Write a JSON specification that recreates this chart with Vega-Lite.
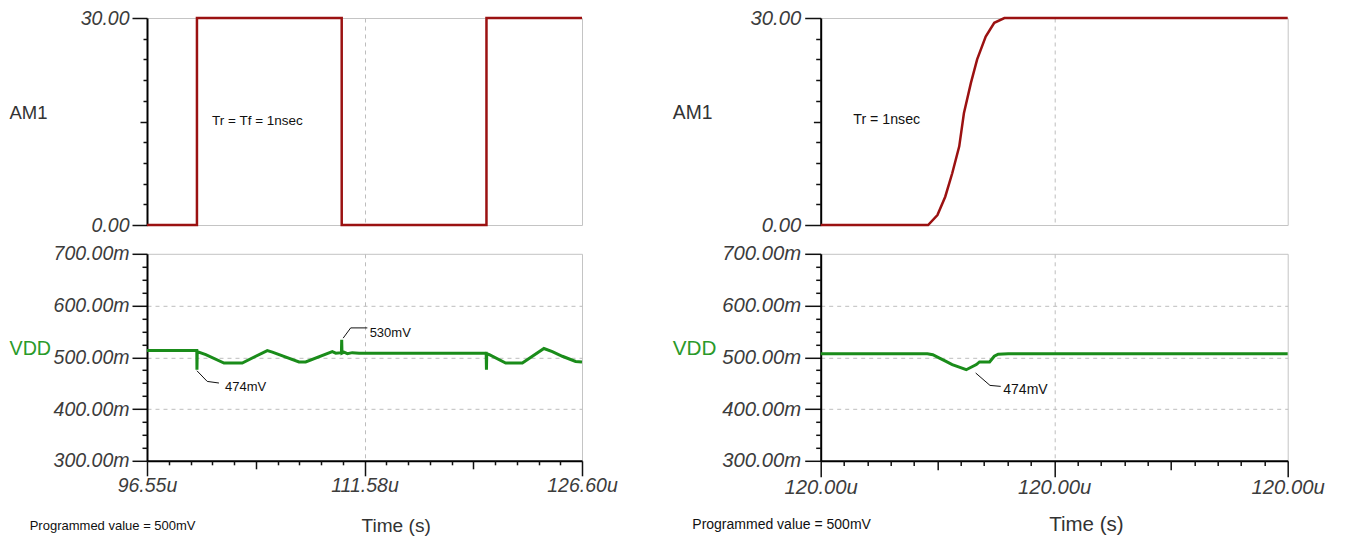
{
  "$schema": "https://vega.github.io/schema/vega-lite/v6.json",
  "padding": {"left": 8, "top": 7, "right": 0, "bottom": 0},
  "background": "white",
  "config": {
    "view": {"stroke": "#c4c4c4", "strokeWidth": 1},
    "axis": {
      "domainColor": "#000000", "domainWidth": 2,
      "tickColor": "#111111", "tickWidth": 1.5,
      "labelFont": "Liberation Sans", "labelFontStyle": "italic", "labelColor": "#3c3c3c", "labelFontSize": 19.5,
      "titleFont": "Liberation Sans", "titleFontWeight": "normal", "titleColor": "#333333",
      "gridColor": "#bdbdbd", "gridDash": [4, 4], "gridWidth": 1,
      "labelOverlap": false, "labelBound": false, "labelFlush": false
    },
    "text": {"font": "Liberation Sans"}
  },
  "datasets": {
    "am1_left": [
      {"t": 96.55, "v": 0}, {"t": 100.0, "v": 0}, {"t": 100.001, "v": 30}, {"t": 110.0, "v": 30},
      {"t": 110.001, "v": 0}, {"t": 120.0, "v": 0}, {"t": 120.001, "v": 30}, {"t": 126.6, "v": 30}
    ],
    "vdd_left": [
      {"t": 96.55, "v": 513}, {"t": 99.99, "v": 513}, {"t": 100.0, "v": 476}, {"t": 100.02, "v": 511},
      {"t": 100.61, "v": 505}, {"t": 101.87, "v": 489}, {"t": 103.13, "v": 489}, {"t": 104.86, "v": 513},
      {"t": 105.21, "v": 510}, {"t": 107.05, "v": 491}, {"t": 107.51, "v": 491}, {"t": 109.35, "v": 511},
      {"t": 109.59, "v": 508}, {"t": 109.98, "v": 509}, {"t": 110.0, "v": 534}, {"t": 110.02, "v": 508},
      {"t": 110.16, "v": 510}, {"t": 110.39, "v": 507}, {"t": 110.73, "v": 509}, {"t": 111.2, "v": 508},
      {"t": 119.98, "v": 508}, {"t": 120.0, "v": 476}, {"t": 120.02, "v": 507}, {"t": 120.2, "v": 505},
      {"t": 121.33, "v": 489}, {"t": 122.48, "v": 489}, {"t": 123.97, "v": 517}, {"t": 124.55, "v": 511},
      {"t": 125.24, "v": 502}, {"t": 126.16, "v": 492}, {"t": 126.6, "v": 491}
    ],
    "notes_left": [
      {"t": 101.94, "v": 435.4, "label": "474mV"},
      {"t": 111.93, "v": 539.4, "label": "530mV"},
      {"t": 88.447, "v": 166.4, "label": "Programmed value = 500mV"}
    ],
    "leaders_left": [
      {"grp": "a", "t": 100.0, "v": 474}, {"grp": "a", "t": 100.71, "v": 453.4}, {"grp": "a", "t": 101.52, "v": 450.3},
      {"grp": "b", "t": 110.1, "v": 537}, {"grp": "b", "t": 110.62, "v": 556.8}, {"grp": "b", "t": 111.77, "v": 556.8}
    ],
    "am1_right": [
      {"t": 119.997, "v": 0}, {"t": 119.99838, "v": 0}, {"t": 119.9985, "v": 1.45}, {"t": 119.9986, "v": 4.1},
      {"t": 119.99869, "v": 7.5}, {"t": 119.99878, "v": 11.4}, {"t": 119.99884, "v": 16.2}, {"t": 119.99893, "v": 20.6},
      {"t": 119.99901, "v": 24.0}, {"t": 119.99912, "v": 27.3}, {"t": 119.99923, "v": 29.3}, {"t": 119.99936, "v": 30},
      {"t": 120.003, "v": 30}
    ],
    "vdd_right": [
      {"t": 119.997, "v": 507}, {"t": 119.99837, "v": 507}, {"t": 119.99844, "v": 505}, {"t": 119.99852, "v": 499},
      {"t": 119.99861, "v": 492}, {"t": 119.99869, "v": 486}, {"t": 119.99878, "v": 481}, {"t": 119.99887, "v": 476},
      {"t": 119.999, "v": 486}, {"t": 119.99904, "v": 491}, {"t": 119.99917, "v": 491}, {"t": 119.99923, "v": 502},
      {"t": 119.99928, "v": 506}, {"t": 119.99941, "v": 507}, {"t": 120.003, "v": 507}
    ],
    "notes_right": [
      {"t": 119.999346, "v": 429, "label": "474mV"},
      {"t": 119.9953503, "v": 168.4, "label": "Programmed value = 500mV"}
    ],
    "leaders_right": [
      {"grp": "a", "t": 119.998991, "v": 469.7}, {"grp": "a", "t": 119.999175, "v": 445.7}, {"grp": "a", "t": 119.999313, "v": 443.8}
    ]
  },
  "columns": 2,
  "bounds": "flush",
  "spacing": {"row": 28.8, "column": 238.7},
  "concat": [
    {
      "width": 435, "height": 207,
      "resolve": {"axis": {"x": "independent", "y": "independent"}},
      "layer": [
        {
          "data": {"name": "am1_left"},
          "mark": {"type": "line", "color": "#9b1111", "strokeWidth": 2.5},
          "encoding": {
            "x": {"field": "t", "type": "quantitative", "scale": {"domain": [96.55, 126.6], "nice": false, "zero": false},
              "axis": {"orient": "bottom", "values": [111.5751], "domain": false, "ticks": false, "labels": false, "title": null, "grid": true}},
            "y": {"field": "v", "type": "quantitative", "scale": {"domain": [0, 30], "nice": false, "zero": false},
              "axis": {"orient": "left", "values": [0, 30], "format": ".2f", "tickSize": 15, "labelPadding": 3, "grid": false,
                "title": "AM1", "titleAngle": 0, "titleAlign": "left", "titleBaseline": "middle", "titleX": -138, "titleY": 94, "titleFontSize": 18.5}}
          }
        },
        {
          "data": {"values": [{"t": 101.04, "v": 14.47, "label": "Tr = Tf = 1nsec"}]},
          "mark": {"type": "text", "align": "left", "baseline": "alphabetic", "fontSize": 13.5, "color": "#111111"},
          "encoding": {
            "x": {"field": "t", "type": "quantitative", "axis": null},
            "y": {"field": "v", "type": "quantitative",
              "axis": {"orient": "left", "values": [3, 6, 9, 12, 15, 18, 21, 24, 27], "labels": false, "domain": false, "grid": false, "title": null,
                "tickSize": {"condition": {"test": "datum.value == 15", "value": 7}, "value": 4}}},
            "text": {"field": "label"}
          }
        }
      ]
    },
    {
      "width": 467, "height": 207,
      "resolve": {"axis": {"x": "independent", "y": "independent"}},
      "layer": [
        {
          "data": {"name": "am1_right"},
          "mark": {"type": "line", "color": "#9b1111", "strokeWidth": 2.5},
          "encoding": {
            "x": {"field": "t", "type": "quantitative", "scale": {"domain": [119.997, 120.003], "nice": false, "zero": false},
              "axis": {"orient": "bottom", "values": [120.0], "domain": false, "ticks": false, "labels": false, "title": null, "grid": true}},
            "y": {"field": "v", "type": "quantitative", "scale": {"domain": [0, 30], "nice": false, "zero": false},
              "axis": {"orient": "left", "values": [0, 30], "format": ".2f", "tickSize": 16, "labelPadding": 4, "labelFontSize": 20.3, "grid": false,
                "title": "AM1", "titleAngle": 0, "titleAlign": "left", "titleBaseline": "middle", "titleX": -148.4, "titleY": 94, "titleFontSize": 19.3}}
          }
        },
        {
          "data": {"values": [{"t": 119.9974189, "v": 14.66, "label": "Tr = 1nsec"}]},
          "mark": {"type": "text", "align": "left", "baseline": "alphabetic", "fontSize": 14.2, "color": "#111111"},
          "encoding": {
            "x": {"field": "t", "type": "quantitative", "axis": null},
            "y": {"field": "v", "type": "quantitative",
              "axis": {"orient": "left", "values": [3, 6, 9, 12, 15, 18, 21, 24, 27], "labels": false, "domain": false, "grid": false, "title": null,
                "tickSize": {"condition": {"test": "datum.value == 15", "value": 7.3}, "value": 5}}},
            "text": {"field": "label"}
          }
        }
      ]
    },
    {
      "width": 435, "height": 207,
      "resolve": {"axis": {"x": "independent", "y": "independent"}},
      "layer": [
        {
          "data": {"name": "vdd_left"},
          "mark": {"type": "line", "color": "#1a8c1a", "strokeWidth": 3},
          "encoding": {
            "x": {"field": "t", "type": "quantitative", "scale": {"domain": [96.55, 126.6], "nice": false, "zero": false},
              "axis": {"orient": "bottom", "values": [96.55, 111.5751, 126.6], "labelExpr": "format(datum.value, '.2f') + 'u'",
                "tickSize": 15, "labelPadding": 1, "grid": true,
                "gridOpacity": {"condition": {"test": "datum.value < 100 || datum.value > 126", "value": 0}, "value": 1},
                "title": "Time (s)", "titleAlign": "left", "titleBaseline": "alphabetic", "titleX": 214, "titleY": 70.5, "titleFontSize": 19.1}},
            "y": {"field": "v", "type": "quantitative", "scale": {"domain": [300, 700], "nice": false, "zero": false},
              "axis": {"orient": "left", "values": [300, 400, 500, 600, 700], "labelExpr": "format(datum.value, '.2f') + 'm'",
                "tickSize": 15, "labelPadding": 3, "grid": true,
                "gridOpacity": {"condition": {"test": "datum.value == 300 || datum.value == 700", "value": 0}, "value": 1},
                "title": "VDD", "titleColor": "#2a9a2a", "titleAngle": 0, "titleAlign": "left", "titleBaseline": "middle", "titleX": -138, "titleY": 94.7, "titleFontSize": 19.7}}
          }
        },
        {
          "data": {"name": "notes_left"},
          "mark": {"type": "text", "align": "left", "baseline": "alphabetic", "fontSize": 13, "color": "#111111"},
          "encoding": {
            "x": {"field": "t", "type": "quantitative",
              "axis": {"orient": "bottom", "values": [98.0525, 99.555, 101.0575, 102.56, 104.0625, 105.565, 107.0675, 108.57, 110.0725, 113.0775, 114.58, 116.0825, 117.585, 119.0875, 120.59, 122.0925, 123.595, 125.0975],
                "labels": false, "domain": false, "grid": false, "title": null,
                "tickSize": {"condition": {"test": "abs(datum.value - 104.0625) < 0.01 || abs(datum.value - 119.0875) < 0.01", "value": 8}, "value": 4}}},
            "y": {"field": "v", "type": "quantitative",
              "axis": {"orient": "left", "values": [325, 350, 375, 425, 450, 475, 525, 550, 575, 625, 650, 675], "labels": false, "domain": false, "grid": false, "title": null, "tickSize": 5}},
            "text": {"field": "label"}
          }
        },
        {
          "data": {"name": "leaders_left"},
          "mark": {"type": "line", "color": "#111111", "strokeWidth": 1},
          "encoding": {
            "x": {"field": "t", "type": "quantitative", "axis": null},
            "y": {"field": "v", "type": "quantitative", "axis": null},
            "detail": {"field": "grp"}
          }
        }
      ]
    },
    {
      "width": 467, "height": 207,
      "resolve": {"axis": {"x": "independent", "y": "independent"}},
      "layer": [
        {
          "data": {"name": "vdd_right"},
          "mark": {"type": "line", "color": "#1a8c1a", "strokeWidth": 3},
          "encoding": {
            "x": {"field": "t", "type": "quantitative", "scale": {"domain": [119.997, 120.003], "nice": false, "zero": false},
              "axis": {"orient": "bottom", "values": [119.997, 120.0, 120.003], "labelExpr": "format(datum.value, '.2f') + 'u'",
                "tickSize": 16, "labelPadding": 1, "labelFontSize": 20.3, "grid": true,
                "gridOpacity": {"condition": {"test": "datum.value < 119.999 || datum.value > 120.001", "value": 0}, "value": 1},
                "title": "Time (s)", "titleAlign": "left", "titleBaseline": "alphabetic", "titleX": 228, "titleY": 70, "titleFontSize": 20.5}},
            "y": {"field": "v", "type": "quantitative", "scale": {"domain": [300, 700], "nice": false, "zero": false},
              "axis": {"orient": "left", "values": [300, 400, 500, 600, 700], "labelExpr": "format(datum.value, '.2f') + 'm'",
                "tickSize": 16, "labelPadding": 4, "labelFontSize": 20.3, "grid": true,
                "gridOpacity": {"condition": {"test": "datum.value == 300 || datum.value == 700", "value": 0}, "value": 1},
                "title": "VDD", "titleColor": "#2a9a2a", "titleAngle": 0, "titleAlign": "left", "titleBaseline": "middle", "titleX": -148.4, "titleY": 94.7, "titleFontSize": 20.7}}
          }
        },
        {
          "data": {"name": "notes_right"},
          "mark": {"type": "text", "align": "left", "baseline": "alphabetic", "fontSize": 14, "color": "#111111"},
          "encoding": {
            "x": {"field": "t", "type": "quantitative",
              "axis": {"orient": "bottom", "values": [119.9973, 119.9976, 119.9979, 119.9982, 119.9985, 119.9988, 119.9991, 119.9994, 119.9997, 120.0003, 120.0006, 120.0009, 120.0012, 120.0015, 120.0018, 120.0021, 120.0024, 120.0027],
                "labels": false, "domain": false, "grid": false, "title": null,
                "tickSize": {"condition": {"test": "abs(datum.value - 119.9985) < 0.00001 || abs(datum.value - 120.0015) < 0.00001", "value": 9}, "value": 4.7}}},
            "y": {"field": "v", "type": "quantitative",
              "axis": {"orient": "left", "values": [325, 350, 375, 425, 450, 475, 525, 550, 575, 625, 650, 675], "labels": false, "domain": false, "grid": false, "title": null, "tickSize": 5}},
            "text": {"field": "label"}
          }
        },
        {
          "data": {"name": "leaders_right"},
          "mark": {"type": "line", "color": "#111111", "strokeWidth": 1},
          "encoding": {
            "x": {"field": "t", "type": "quantitative", "axis": null},
            "y": {"field": "v", "type": "quantitative", "axis": null},
            "detail": {"field": "grp"}
          }
        }
      ]
    }
  ]
}
